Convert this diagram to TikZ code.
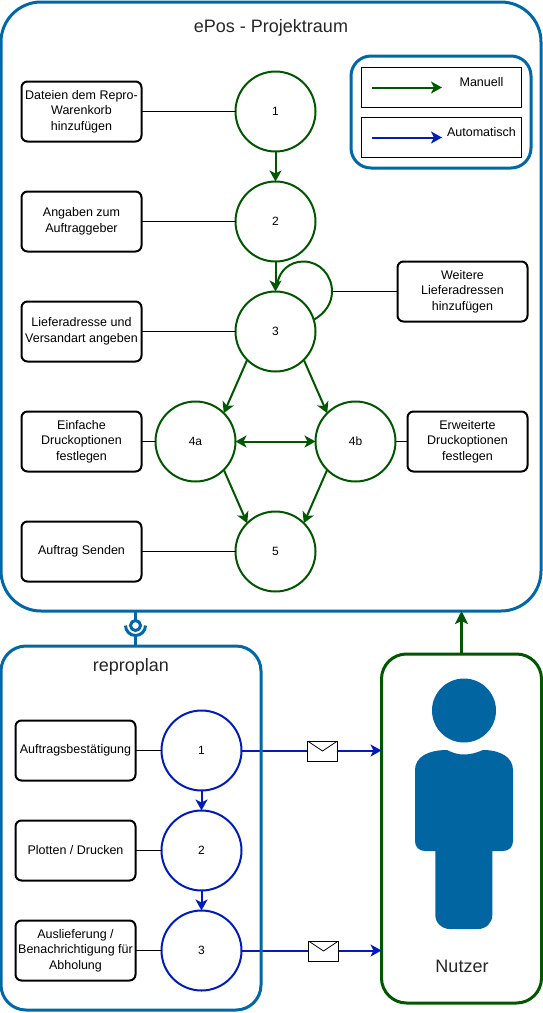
\documentclass[tikz,border=0pt]{standalone}
\usepackage{fontspec}
\setmainfont{Liberation Sans}
\usetikzlibrary{arrows.meta,positioning}
\definecolor{epblue}{HTML}{0068A8}
\definecolor{epperson}{HTML}{0065A0}
\definecolor{epgreen}{HTML}{005700}
\definecolor{epauto}{HTML}{001DBC}
\begin{document}
\begin{tikzpicture}[x=1pt,y=-1pt]
\tikzset{
  container/.style={draw=epblue,line width=3pt,rounded corners=#1,outer sep=0pt,inner sep=0pt},
  container/.default=25pt,
  stepnode/.style={circle,draw=epgreen,line width=2pt,fill=white,minimum size=80pt,inner sep=0pt,outer sep=0pt,font=\fontsize{12}{14}\selectfont},
  autonode/.style={stepnode,draw=epauto},
  textbox/.style={draw=black,line width=2pt,rounded corners=6pt,fill=white,minimum width=120pt,minimum height=60pt,inner sep=0pt,outer sep=0pt,align=center,font=\fontsize{12.5}{15.5}\selectfont},
  legendbox/.style={draw=black,line width=1pt,minimum width=160pt,minimum height=40pt,inner sep=0pt,outer sep=0pt},
  legendtext/.style={font=\fontsize{12.5}{14}\selectfont},
  titletext/.style={font=\fontsize{18}{21}\selectfont,text=black!85},
  mailnode/.style={draw=black,line width=1pt,fill=white,minimum width=30pt,minimum height=20pt,inner sep=0pt,outer sep=0pt,
    path picture={\draw[line width=0.8pt] (path picture bounding box.north west) -- ([yshift=-10pt]path picture bounding box.north) -- (path picture bounding box.north east);}},
  plainline/.style={draw=black,line width=1pt},
  manuell/.style={draw=epgreen,line width=2pt,-{Stealth[length=11pt,width=12pt,inset=3pt]}},
  automatisch/.style={draw=epauto,line width=2pt,-{Stealth[length=11pt,width=12pt,inset=3pt]}}
}
\useasboundingbox (0,0) rectangle (543,1013);
% containers
\node[container=40pt,minimum width=540pt,minimum height=609pt] (n_epos) at (271,306.5) {};
\node[container=20pt,minimum width=180pt,minimum height=112pt] (n_legend) at (441,112) {};
\node[legendbox] (n_man) at (441.5,87.5) {};
\node[legendbox] (n_aut) at (441.5,137.5) {};
\coordinate (c_man_a) at (371.5,87.5);
\coordinate (c_man_b) at (442,87.5);
\coordinate (c_aut_a) at (371.5,137.5);
\coordinate (c_aut_b) at (442,137.5);
\draw[manuell] (c_man_a) -- (c_man_b);
\draw[automatisch] (c_aut_a) -- (c_aut_b);
\node[legendtext] (t_man) at (481.5,82) {Manuell};
\node[legendtext] (t_aut) at (481.5,132.5) {Automatisch};
\node[titletext] (t_epos) at (271,27.5) {ePos - Projektraum};
% upper steps
\node[stepnode] (n_1) at (275.5,111.5) {1};
\node[stepnode] (n_2) at (275.5,221.5) {2};
\node[stepnode] (n_3) at (275.5,331.5) {3};
\node[stepnode] (n_4a) at (195.5,441.5) {4a};
\node[stepnode] (n_4b) at (355.5,441.5) {4b};
\node[stepnode] (n_5) at (275.5,551.5) {5};
\node[textbox] (b_1) at (81.5,111.5) {Dateien dem Repro-\\Warenkorb\\hinzufügen};
\node[textbox] (b_2) at (81.5,221.5) {Angaben zum\\Auftraggeber};
\node[textbox] (b_3) at (81.5,331.5) {Lieferadresse und\\Versandart angeben};
\node[textbox] (b_4a) at (81.5,441.5) {Einfache\\Druckoptionen\\festlegen};
\node[textbox] (b_5) at (81.5,551.5) {Auftrag Senden};
\node[textbox,minimum width=130pt] (b_3x) at (462.5,291.5) {Weitere\\Lieferadressen\\hinzufügen};
\node[textbox] (b_4b) at (467.5,441.5) {Erweiterte\\Druckoptionen\\festlegen};
\coordinate (c_loop) at (332,291.5);
\draw[plainline] (b_1) -- (n_1);
\draw[plainline] (b_2) -- (n_2);
\draw[plainline] (b_3) -- (n_3);
\draw[plainline] (b_4a) -- (n_4a);
\draw[plainline] (b_5) -- (n_5);
\draw[plainline] (b_4b) -- (n_4b);
\draw[plainline] (b_3x) -- (c_loop);
\draw[manuell] (n_1) -- (n_2);
\draw[draw=epgreen,line width=2pt] (n_3.17) .. controls (325.5,313) and (332,303) .. (c_loop) .. controls (332,275) and (319.5,261.5) .. (303.5,261.5) .. controls (289.5,261.5) and (279.5,271) .. (277.5,283);
\draw[manuell] (n_2) -- (n_3);
\draw[manuell] (n_3.225) -- (n_4a.45);
\draw[manuell] (n_3.315) -- (n_4b.135);
\draw[manuell,{Stealth[length=11pt,width=12pt,inset=3pt]}-{Stealth[length=11pt,width=12pt,inset=3pt]}] (n_4a) -- (n_4b);
\draw[manuell] (n_4a.315) -- (n_5.135);
\draw[manuell] (n_4b.225) -- (n_5.45);
% lower steps
\node[autonode] (n_r1) at (201.5,750.5) {1};
\node[autonode] (n_r2) at (201.5,850.5) {2};
\node[autonode] (n_r3) at (201.5,950.5) {3};
\node[textbox] (b_r1) at (75.5,750.5) {Auftragsbestätigung};
\node[textbox] (b_r2) at (75.5,850.5) {Plotten / Drucken};
\node[textbox] (b_r3) at (75.5,950.5) {Auslieferung /\\Benachrichtigung für\\Abholung};
\draw[plainline] (b_r1) -- (n_r1);
\draw[plainline] (b_r2) -- (n_r2);
\draw[plainline] (b_r3) -- (n_r3);
\draw[automatisch] (n_r1) -- (n_r2);
\draw[automatisch] (n_r2) -- (n_r3);
\node[draw=epgreen,line width=3pt,rounded corners=25pt,minimum width=160pt,minimum height=349pt,inner sep=0pt,outer sep=0pt] (n_nutzer) at (461.5,828.5) {};
\draw[automatisch] (n_r1) -- (n_r1 -| n_nutzer.west);
\draw[automatisch] (n_r3) -- (n_r3 -| n_nutzer.west);
\node[container,minimum width=260pt,minimum height=364pt] (n_repro) at (131,828) {};
\node[mailnode] (m_1) at (322.5,751) {};
\node[mailnode] (m_2) at (323.5,951) {};
\node[titletext] (t_repro) at (131,666.5) {reproplan};
\node[titletext] (t_nutzer) at (462,966.5) {Nutzer};
\draw[draw=epgreen,line width=3pt,-{Stealth[length=13pt,width=13pt,inset=3pt]}] (n_nutzer.north) -- (n_epos.south -| n_nutzer.north);
% person
\fill[epperson] (464,710.5) circle[radius=32pt];
\fill[epperson] (447,750) .. controls (453,753) and (458,754.5) .. (464,754.5) .. controls (470,754.5) and (476,753) .. (483,750)
  .. controls (500,750) and (513,757) .. (513,770) -- (513,841) .. controls (513,847) and (509,851) .. (503,851) -- (492.3,851)
  -- (492.3,915) .. controls (492.3,923) and (486,929) .. (478,929) -- (450,929) .. controls (442,929) and (435.3,923) .. (435.3,915)
  -- (435.3,851) -- (425,851) .. controls (419,851) and (415,847) .. (415,841) -- (415,770) .. controls (415,757) and (428,750) .. (447,750) -- cycle;
% interface
\node[circle,draw=epblue,line width=3pt,fill=white,minimum size=10pt,inner sep=0pt,outer sep=0pt] (n_port) at (135.5,625.5) {};
\coordinate (c_sock_l) at (125.5,625.5);
\coordinate (c_sock_r) at (145.5,625.5);
\coordinate (c_sock_b) at (135.5,635.5);
\draw[draw=epblue,line width=3pt] (c_sock_l) .. controls (125.5,631) and (130,635.5) .. (c_sock_b) .. controls (141,635.5) and (145.5,631) .. (c_sock_r);
\draw[draw=epblue,line width=3pt] (n_port.north) -- (n_port.north |- n_epos.south);
\draw[draw=epblue,line width=3pt] (c_sock_b) -- (c_sock_b |- n_repro.north);
\end{tikzpicture}
\end{document}
